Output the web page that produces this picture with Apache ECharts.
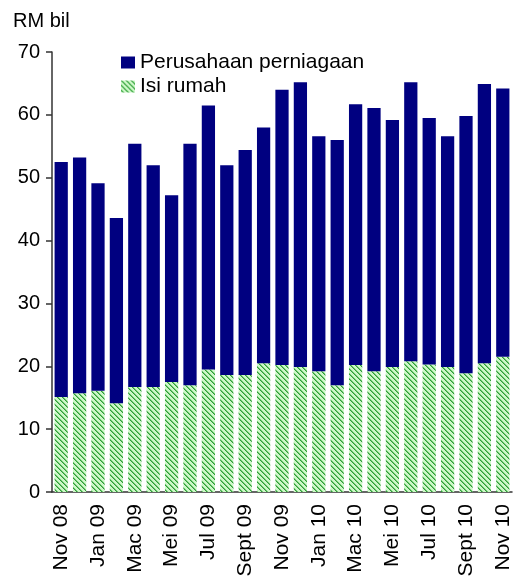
<!DOCTYPE html>
<html>
<head>
<meta charset="utf-8">
<script src="https://cdn.jsdelivr.net/npm/echarts@6/dist/echarts.min.js"></script>
<style>
  html, body { margin: 0; padding: 0; background: #fff; }
  #chart { width: 517px; height: 588px; }
</style>
</head>
<body>
<div id="chart"></div>
<script>
// bulan Nov 08 - Nov 10
const months = ['Nov 08', 'Dis 08', 'Jan 09', 'Feb 09', 'Mac 09', 'Apr 09', 'Mei 09', 'Jun 09',
  'Jul 09', 'Ogos 09', 'Sept 09', 'Okt 09', 'Nov 09', 'Dis 09', 'Jan 10', 'Feb 10', 'Mac 10',
  'Apr 10', 'Mei 10', 'Jun 10', 'Jul 10', 'Ogos 10', 'Sept 10', 'Okt 10', 'Nov 10'];

// jumlah (bahagian atas bar) dan isi rumah
const totals = [52.5, 53.2, 49.1, 43.6, 55.4, 52.0, 47.2, 55.4, 61.5, 52.0, 54.4, 58.0, 64.0,
  65.2, 56.6, 56.0, 61.7, 61.1, 59.2, 65.2, 59.5, 56.6, 59.8, 64.9, 64.2];
const isiRumah = [15.1, 15.7, 16.1, 14.1, 16.7, 16.7, 17.5, 17.0, 19.5, 18.6, 18.6, 20.5, 20.2,
  19.9, 19.2, 17.0, 20.2, 19.2, 19.9, 20.8, 20.3, 19.9, 18.9, 20.5, 21.5];
const perniagaan = totals.map((t, i) => +(t - isiRumah[i]).toFixed(1));

const yTicks = [0, 10, 20, 30, 40, 50, 60, 70];

// corak jalur hijau
function hatch() {
  const c = document.createElement('canvas');
  c.width = 5; c.height = 5;
  const ctx = c.getContext('2d');
  for (let y = 0; y < 5; y++) {
    for (let x = 0; x < 5; x++) {
      const d = ((x - y) % 5 + 5) % 5;
      ctx.fillStyle = d === 0 ? '#2f9a3a' : (d === 1 ? '#6fcc6f' : '#cdf7c8');
      ctx.fillRect(x, y, 1, 1);
    }
  }
  return c;
}

const font = 'Liberation Sans, Arial, sans-serif';
const chart = echarts.init(document.getElementById('chart'));

chart.setOption({
  animation: false,
  title: {
    text: 'RM bil',
    left: 8,
    top: 6,
    textStyle: { fontFamily: font, fontSize: 20, fontWeight: 'normal', color: '#000' }
  },
  legend: {
    data: ['Perusahaan perniagaan', 'Isi rumah'],
    orient: 'vertical',
    left: 116,
    top: 47,
    icon: 'rect',
    itemWidth: 14,
    itemHeight: 12,
    itemGap: 3,
    textStyle: { fontFamily: font, fontSize: 21, color: '#000' }
  },
  grid: { left: 52, right: 5, top: 52, bottom: 96 },
  xAxis: {
    type: 'category',
    data: months,
    axisLine: { lineStyle: { color: '#333', width: 1.5 } },
    axisTick: { interval: 2, length: 6, lineStyle: { color: '#333', width: 1.5 } },
    axisLabel: {
      interval: 1,
      rotate: 90,
      margin: 12,
      fontFamily: font,
      fontSize: 21,
      color: '#000'
    }
  },
  yAxis: {
    type: 'value',
    min: yTicks[0],
    max: yTicks[yTicks.length - 1],
    interval: 10,
    splitLine: { show: false },
    axisLine: { show: true, lineStyle: { color: '#333', width: 1.5 } },
    axisTick: { show: true, length: 6, lineStyle: { color: '#333', width: 1.5 } },
    axisLabel: { margin: 12, fontFamily: font, fontSize: 20, color: '#000' }
  },
  series: [
    {
      name: 'Isi rumah',
      type: 'bar',
      stack: 'jumlah',
      barCategoryGap: '28%',
      data: isiRumah,
      itemStyle: { color: { image: hatch(), repeat: 'repeat' } }
    },
    {
      name: 'Perusahaan perniagaan',
      type: 'bar',
      stack: 'jumlah',
      barCategoryGap: '28%',
      data: perniagaan,
      itemStyle: { color: '#000080' }
    }
  ]
});
</script>
</body>
</html>
